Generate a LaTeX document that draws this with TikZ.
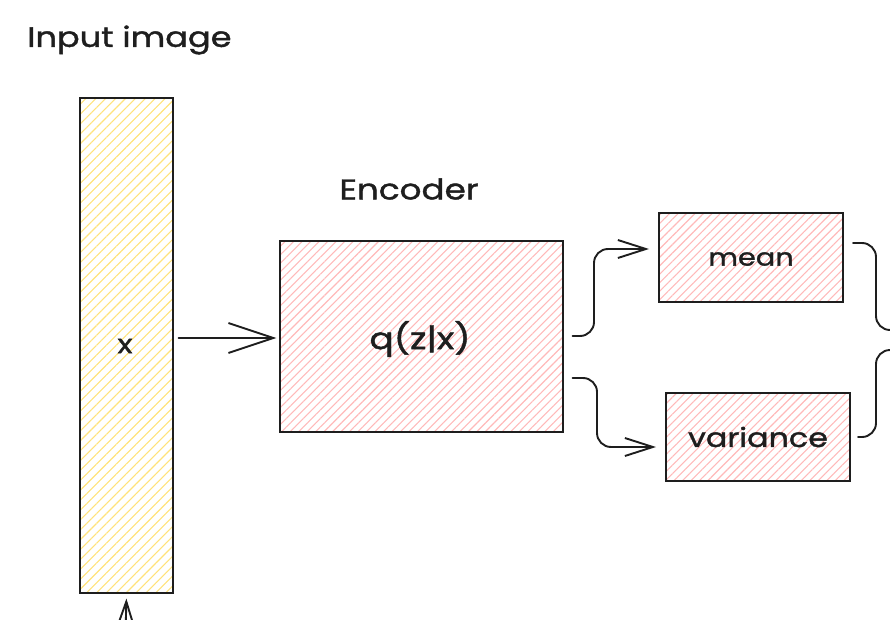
\documentclass[tikz,border=0pt]{standalone}
\usepackage{fontspec}
\setmainfont{Poppins}
\newfontfamily\hand{Poppins}[FakeBold=1.4,FakeStretch=1.2]
\usetikzlibrary{arrows.meta,patterns.meta}
\definecolor{hpink}{HTML}{FFB9B9}
\definecolor{hyellow}{HTML}{FFE27A}
\definecolor{ink}{HTML}{1E1E1E}
\tikzset{
  box/.style={draw=ink, line width=2pt, rectangle, inner sep=0pt},
  pinkbox/.style={box, pattern={Lines[angle=45,distance=6pt,line width=1.1pt]}, pattern color=hpink},
  yellowbox/.style={box, pattern={Lines[angle=45,distance=7pt,line width=1.1pt]}, pattern color=hyellow},
  conn/.style={draw=ink, line width=1.9pt, line cap=round, rounded corners=14pt},
  bigarrow/.style={-{Straight Barb[length=45pt,width=30pt,line width=1.9pt]}},
  smallarrow/.style={-{Straight Barb[length=28pt,width=18pt,line width=1.9pt]}},
  lbl/.style={text=ink, inner sep=0pt}
}
\begin{document}
\begin{tikzpicture}[x=1pt,y=-1pt]
\useasboundingbox (0,0) rectangle (890,620);
\clip (0,0) rectangle (890,620);
% labels
\node[lbl, font=\hand\fontsize{28}{30}\selectfont, anchor=west] (title) at (27,40) {Input image};
\node[lbl, font=\hand\fontsize{28.5}{30}\selectfont] (enclbl) at (409,189) {Encoder};
% boxes
\node[yellowbox, minimum width=93pt, minimum height=495pt] (input) at (126.5,345.5) {};
\node[lbl, font=\hand\fontsize{26}{28}\selectfont] (xlbl) at (125,346) {x};
\node[pinkbox, minimum width=283pt, minimum height=191pt] (enc) at (421.5,336.5) {};
\node[lbl, font=\hand\fontsize{30}{32}\selectfont] (qlbl) at (420,339) {q(z|x)};
\node[pinkbox, minimum width=184pt, minimum height=89pt] (mean) at (751,257.5) {};
\node[lbl, font=\hand\fontsize{24}{26}\selectfont] (meanlbl) at (751,259) {mean};
\node[pinkbox, minimum width=184pt, minimum height=88pt] (var) at (758,437) {};
\node[lbl, font=\hand\fontsize{26.5}{28}\selectfont] (varlbl) at (758,437) {variance};
% free ends
\coordinate (outA) at (910,330);
\coordinate (outB) at (910,350);
\coordinate (below) at (124,700);
% connectors
\draw[conn, bigarrow, shorten <=5pt, shorten >=3pt] (input.east |- 0,338) -- (enc.west |- 0,338);
\draw[conn, smallarrow, shorten >=9pt] ([xshift=9pt]enc.east |- 0,336) -- (594,336) -- (594,249) -- (mean.west |- 0,249);
\draw[conn, smallarrow, shorten >=9pt] ([xshift=9pt]enc.east |- 0,378) -- (597,378) -- (597,447) -- (var.west |- 0,447);
\draw[conn] ([xshift=9pt]mean.east |- 0,243) -- (876,243) -- (876,330) -- (outA);
\draw[conn] ([xshift=7pt]var.east |- 0,437) -- (876,437) -- (876,350) -- (outB);
\draw[conn, bigarrow, shorten >=5pt] (below) -- (input.south);
\end{tikzpicture}
\end{document}
